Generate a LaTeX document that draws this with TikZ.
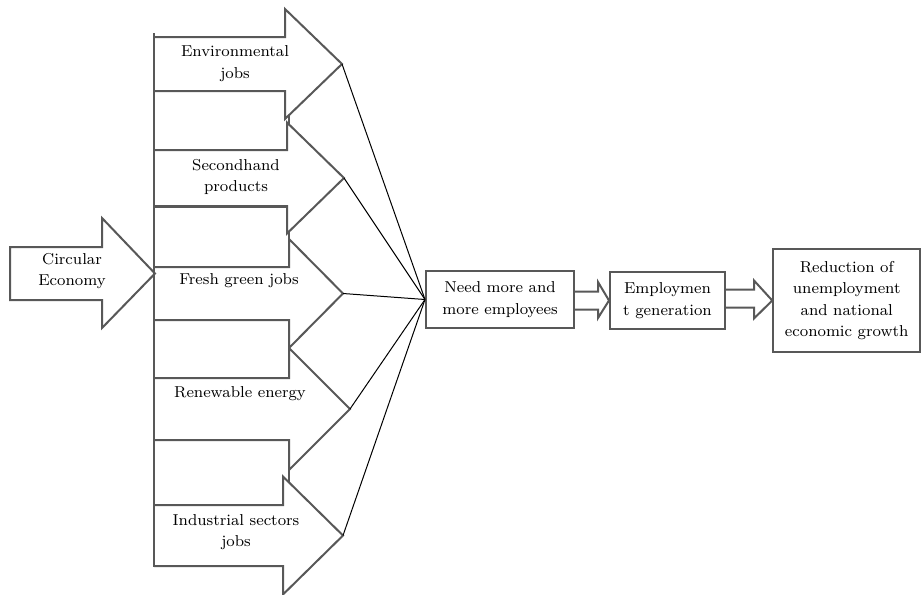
\documentclass[tikz,border=0pt]{standalone}
\usetikzlibrary{calc}
\definecolor{edgegray}{RGB}{88,88,88}
\tikzset{
  outline/.style={draw=edgegray, line width=1pt, fill=white},
  txt/.style={align=center, inner sep=0pt, font=\fontsize{7.9}{10.8}\selectfont},
  box/.style={outline, txt},
  ray/.style={line width=0.5pt, black}
}
\begin{document}
\begin{tikzpicture}[x=0.5pt,y=-0.5pt]
  \useasboundingbox (0,0) rectangle (922,595);

  %%%%%%%%%%%%%%%%%%%%%%%%%%%%%%%%%%%%%%%%%%%%%%%%%%%%%%%%%%%%%%%%%%%%%%%%%%%
  %%%%  Gaps between the job arrows
  \foreach \top/\bot in {91/150,207/267,320/378,440/505}
    {\draw[outline] (154,\top) rectangle (289,\bot);}

  %%%%%%%%%%%%%%%%%%%%%%%%%%%%%%%%%%%%%%%%%%%%%%%%%%%%%%%%%%%%%%%%%%%%%%%%%%%
  %%%%  Job arrows: centre / half body / half head / base / tip
  \foreach \c/\hb/\hh/\base/\tip [count=\i] in
    {64/27/55/285/342, 178/28/55.5/287/344, 293.5/26.5/54.5/289/343,
     409/31/61/289/350, 535.5/30.5/59/283/343}
   {\draw[outline] (154,{\c-\hb}) -- (\base,{\c-\hb}) -- (\base,{\c-\hh})
      -- (\tip,\c) -- (\base,{\c+\hh}) -- (\base,{\c+\hb}) -- (154,{\c+\hb});
    \coordinate (tip\i) at (\tip,\c);
   };

  \node[txt] (env)   at (235,63.5) {Environmental\\jobs};
  \node[txt] (second) at (236,177) {Secondhand\\products};
  \node[txt] (fresh) at (239,281)  {Fresh green jobs};
  \node[txt] (renew) at (240,394)  {Renewable energy};
  \node[txt] (indus) at (236,532)  {Industrial sectors\\jobs};

  %%%%  Circular economy arrow
  \draw[outline] (10,247) -- (102,247) -- (102,218) -- (155,273.5)
    -- (102,328) -- (102,300) -- (10,300) -- cycle;
  \node[txt] (circ) at (72,271) {Circular\\Economy};

  \draw[edgegray, line width=1.4pt] (154,33) -- (154,567);

  %%%%%%%%%%%%%%%%%%%%%%%%%%%%%%%%%%%%%%%%%%%%%%%%%%%%%%%%%%%%%%%%%%%%%%%%%%%
  %%%%  Result chain
  \node[box, minimum width=74pt, minimum height=28.5pt] (need) at (500,299.5)
    {Need more and\\more employees};
  \node[box, minimum width=57.5pt, minimum height=28.5pt] (empl) at (667.5,300.5)
    {Employmen\\t generation};
  \node[box, minimum width=73.5pt, minimum height=51.5pt] (red) at (846.75,300.5)
    {Reduction of\\unemployment\\and national\\economic growth};

  \foreach \i in {1,...,5}
    {\draw[ray] (tip\i) -- (need.west);}

  \draw[outline] ($(need.east)+(0,-8)$) -- ++(23,0) -- ++(0,-9.5) -- (empl.west)
    -- ($(need.east)+(23,18.5)$) -- ++(0,-8.5) -- ($(need.east)+(0,10)$);
  \draw[outline] ($(empl.east)+(0,-11)$) -- ++(28,0) -- ++(0,-9) -- (red.west)
    -- ($(empl.east)+(28,18)$) -- ++(0,-11) -- ($(empl.east)+(0,7)$);
\end{tikzpicture}
\end{document}
